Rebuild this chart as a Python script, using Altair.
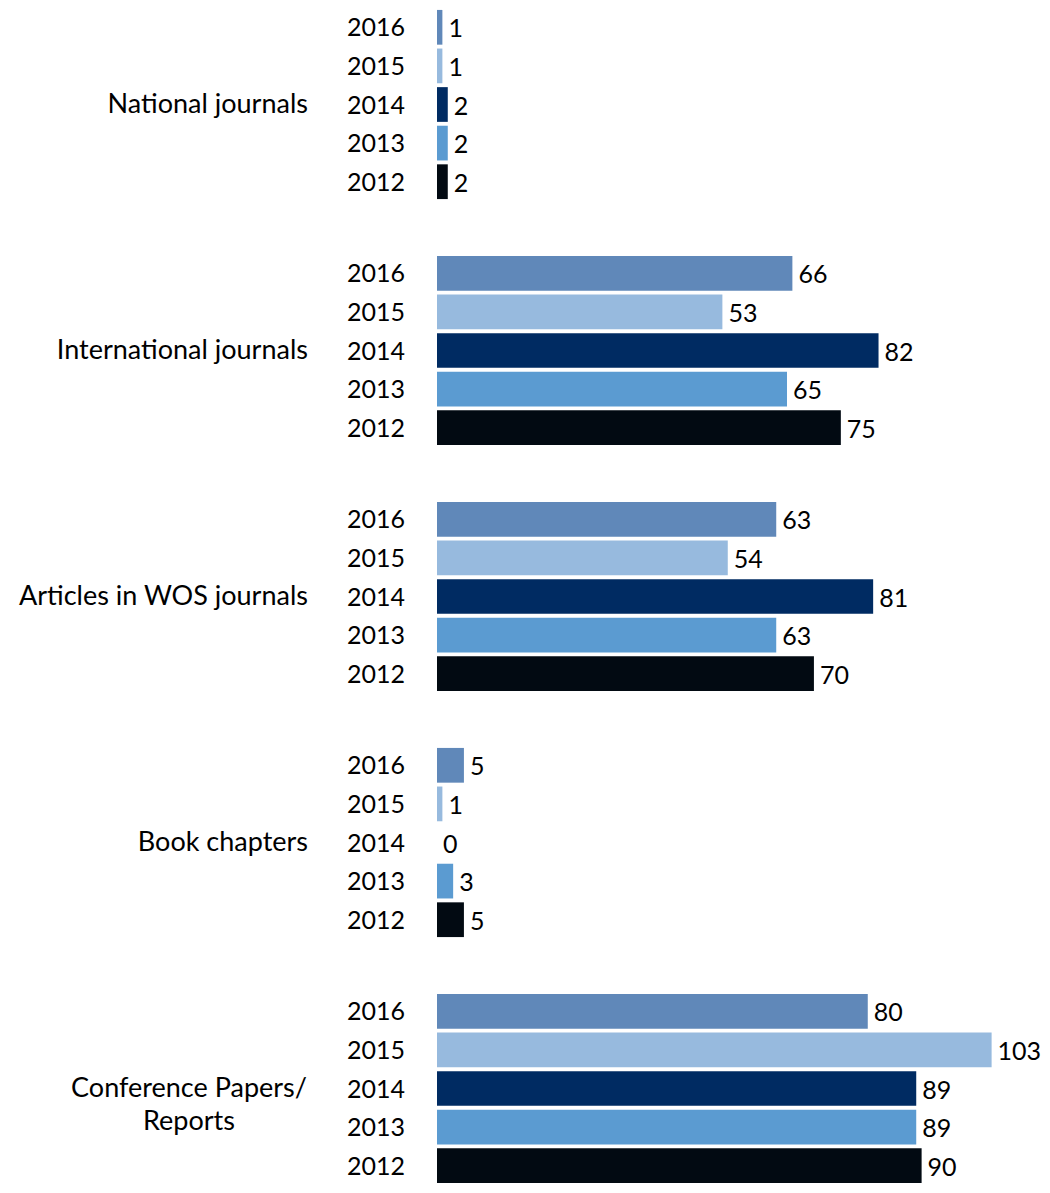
import altair as alt
import pandas as pd

categories = ["National journals", "International journals", "Articles in WOS journals",
              "Book chapters", "Conference Papers/|Reports"]
years = ["2016", "2015", "2014", "2013", "2012"]
colors = ["#6088b9", "#97bade", "#002b62", "#5b9bd1", "#020a12"]

v2016 = [1, 66, 63, 5, 80]
v2015 = [1, 53, 54, 1, 103]
v2014 = [2, 82, 81, 0, 89]
v2013 = [2, 65, 63, 3, 89]
v2012 = [2, 75, 70, 5, 90]

series = {"2016": v2016, "2015": v2015, "2014": v2014, "2013": v2013, "2012": v2012}
rows = []
for y, vals in series.items():
    for c, v in zip(categories, vals):
        rows.append({"category": c, "year": y, "value": v})
df = pd.DataFrame(rows)

FONT = "Lato"
FS = 25
CFS = 27
H = 193

yenc = alt.Y("year:N", sort=years, axis=None,
             scale=alt.Scale(paddingInner=0.1, paddingOuter=0.05))

bars = alt.Chart().mark_bar().encode(
    y=yenc,
    x=alt.X("value:Q", axis=None, scale=alt.Scale(domain=[0, 104], nice=False)),
    color=alt.Color("year:N", scale=alt.Scale(domain=years, range=colors), legend=None),
)

labels = alt.Chart().mark_text(align="left", baseline="middle", dx=6, dy=2, fontSize=FS,
                               font=FONT, color="black").encode(
    y=yenc,
    x=alt.X("value:Q"),
    text=alt.Text("value:Q"),
)

year_text = alt.Chart().mark_text(align="right", baseline="middle", dy=1, fontSize=FS,
                                  font=FONT, color="black").encode(
    y=yenc,
    x=alt.value(-32),
    text="year:N",
)

cat_single = alt.Chart().transform_filter(
    (alt.datum.year == "2016") & (alt.expr.indexof(alt.datum.category, "|") < 0)
).mark_text(align="right", baseline="middle", fontSize=CFS, font=FONT, color="black").encode(
    x=alt.value(-129),
    y=alt.value(H / 2),
    text="category:N",
)

cat_multi = alt.Chart().transform_filter(
    (alt.datum.year == "2016") & (alt.expr.indexof(alt.datum.category, "|") >= 0)
).mark_text(align="center", baseline="middle", fontSize=CFS, font=FONT, color="black",
            lineBreak="|", lineHeight=33).encode(
    x=alt.value(-248),
    y=alt.value(H / 2),
    text="category:N",
)

chart = alt.layer(bars, labels, year_text, cat_single, cat_multi, data=df).properties(
    width=560, height=H
).facet(
    row=alt.Row("category:N", sort=categories, header=alt.Header(title=None, labels=False))
).configure_facet(spacing=53).configure_view(stroke=None).properties(
    background="white", padding={"left": 10, "top": 0, "right": 0, "bottom": 0}
)

chart.save("out.html", embed_options={"renderer": "svg", "actions": False})
